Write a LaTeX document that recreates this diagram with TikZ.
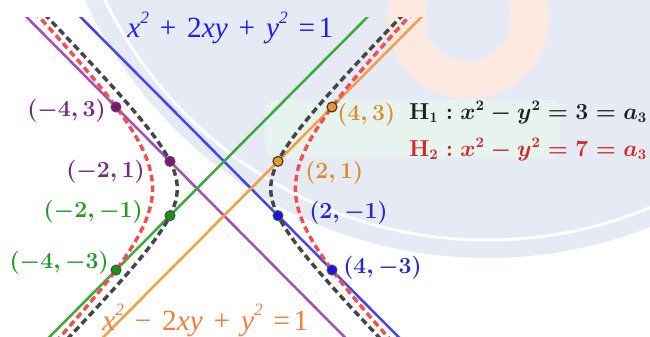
\documentclass[tikz,border=0pt]{standalone}
\usepackage{fontspec}
\newfontfamily\tms{Liberation Serif}
\usetikzlibrary{calc}
\definecolor{bgblue}{RGB}{230,234,244}
\definecolor{bgpeach}{RGB}{252,234,226}
\definecolor{bgmint}{RGB}{230,243,239}
\definecolor{lpurple}{RGB}{165,80,185}
\definecolor{lblue}{RGB}{70,70,235}
\definecolor{lgreen}{RGB}{60,170,60}
\definecolor{lorange}{RGB}{245,160,70}
\definecolor{hgray}{RGB}{70,70,70}
\definecolor{hred}{RGB}{240,80,80}
\definecolor{tpurple}{RGB}{120,40,130}
\definecolor{tgreen}{RGB}{40,150,40}
\definecolor{torange}{RGB}{220,140,40}
\definecolor{tblue}{RGB}{40,40,200}
\definecolor{fpurple}{RGB}{130,20,130}
\definecolor{fgreen}{RGB}{20,150,20}
\definecolor{forange}{RGB}{240,150,40}
\definecolor{fblue}{RGB}{20,20,240}
\definecolor{eqblue}{RGB}{30,30,240}
\definecolor{eqorange}{RGB}{245,125,60}
\definecolor{tblack}{RGB}{30,30,30}
\definecolor{tred}{RGB}{210,40,40}
\newcommand{\sqr}{\raisebox{11pt}{\fontsize{13}{13}\selectfont 2}}
\newcommand{\ssp}{\hspace{0.37em}}
\tikzset{
  lineA/.style={line width=1.9pt},
  hypA/.style={line width=2.6pt, dash pattern=on 5pt off 3pt},
  dotA/.style={circle, inner sep=0pt, minimum size=7.5pt, line width=0.8pt},
  labA/.style={inner sep=0pt, font=\fontsize{16}{19}\selectfont\boldmath},
  eqA/.style={inner sep=0pt, anchor=base west, font=\tms\fontsize{22}{24}\selectfont},
  hA/.style={inner sep=0pt, anchor=base west, font=\fontsize{16}{19}\selectfont\boldmath}
}
\begin{document}
\begin{tikzpicture}[x=20.25pt,y=20.38pt]
\useasboundingbox (-8.2963,-5.4288) rectangle (15.7778,6.9378);
\clip (-8.2963,-5.4288) rectangle (15.7778,6.9378);
% background (pixel scope)
\begin{scope}[shift={(-8.2963,6.9378)},x=0.75pt,y=-0.75pt]
  \fill[white] (0,0) rectangle (650,336);
  \fill[bgblue] (487,-184) circle (442);
  \draw[white, line width=2.2pt] (487,-184) circle (424);
  \draw[bgpeach, line width=28pt] (468,18) circle (62);
  \fill[bgmint, rounded corners=8pt] (265,100) rectangle (560,158);
\end{scope}
% curves and lines
\begin{scope}
  \clip (-8.2963,-5.4288) rectangle (15.7778,6.312);
  \coordinate (pA) at (-9,8);  \coordinate (pB) at (6,-7);
  \coordinate (bA) at (-7,8);  \coordinate (bB) at (8,-7);
  \coordinate (gA) at (-8,-7); \coordinate (gB) at (7,8);
  \coordinate (oA) at (-6,-7); \coordinate (oB) at (9,8);
  \draw[lineA, lpurple] (pA) -- (pB);
  \draw[lineA, lblue] (bA) -- (bB);
  \draw[lineA, lgreen] (gA) -- (gB);
  \draw[lineA, lorange] (oA) -- (oB);
  \draw[hypA, hred] plot[domain=-1.75:1.75, samples=80, smooth, variable=\t] ({-sqrt(7)*cosh(\t)},{sqrt(7)*sinh(\t)});
  \draw[hypA, hred] plot[domain=-1.75:1.75, samples=80, smooth, variable=\t] ({sqrt(7)*cosh(\t)},{sqrt(7)*sinh(\t)});
  \draw[hypA, hgray] plot[domain=-2.1:2.1, samples=80, smooth, variable=\t] ({-sqrt(3)*cosh(\t)},{sqrt(3)*sinh(\t)});
  \draw[hypA, hgray] plot[domain=-2.1:2.1, samples=80, smooth, variable=\t] ({sqrt(3)*cosh(\t)},{sqrt(3)*sinh(\t)});
\end{scope}
% points
\node[dotA, draw=black!70, fill=fpurple] (P1) at (-4,3) {};
\node[dotA, draw=black!70, fill=fpurple] (P2) at (-2,1) {};
\node[dotA, draw=black!70, fill=fgreen] (P3) at (-2,-1) {};
\node[dotA, draw=black!70, fill=fgreen] (P4) at (-4,-3) {};
\node[dotA, draw=black!80, fill=forange] (Q1) at (4,3) {};
\node[dotA, draw=black!80, fill=forange] (Q2) at (2,1) {};
\node[dotA, draw=black!70, fill=fblue] (Q3) at (2,-1) {};
\node[dotA, draw=black!70, fill=fblue] (Q4) at (4,-3) {};
% point labels
\node[labA, anchor=east, text=tpurple] (L1) at (-4.37,2.853) {$(-4,3)$};
\node[labA, anchor=east, text=tpurple] (L2) at (-2.926,0.607) {$(-2,1)$};
\node[labA, anchor=east, text=tgreen] (L3) at (-3.0,-0.865) {$(-2,-1)$};
\node[labA, anchor=east, text=tgreen] (L4) at (-4.259,-2.742) {$(-4,-3)$};
\node[labA, anchor=west, text=torange] (R1) at (4.185,2.705) {$(4,3)$};
\node[labA, anchor=west, text=torange] (R2) at (3.0,0.570) {$(2,1)$};
\node[labA, anchor=west, text=tblue] (R3) at (3.148,-0.902) {$(2,-1)$};
\node[labA, anchor=west, text=tblue] (R4) at (4.407,-2.926) {$(4,-3)$};
% equations
\node[eqA, text=eqblue] (E1) at (-3.593,5.55) {\itshape x\sqr\ssp\upshape+\ssp 2\itshape xy\ssp\upshape+\ssp\itshape y\sqr\ssp\upshape=\hspace{0.12em}1};
\node[eqA, text=eqorange] (E2) at (-4.519,-5.208) {\itshape x\sqr\ssp\upshape\textminus\ssp 2\itshape xy\ssp\upshape+\ssp\itshape y\sqr\ssp\upshape=\hspace{0.12em}1};
\node[hA, text=tblack] (H1) at (6.85,2.547) {$\mathbf{H}_1: x^2-y^2=3=a_3$};
\node[hA, text=tred] (H2) at (6.85,1.196) {$\mathbf{H}_2: x^2-y^2=7=a_3$};
\end{tikzpicture}
\end{document}
